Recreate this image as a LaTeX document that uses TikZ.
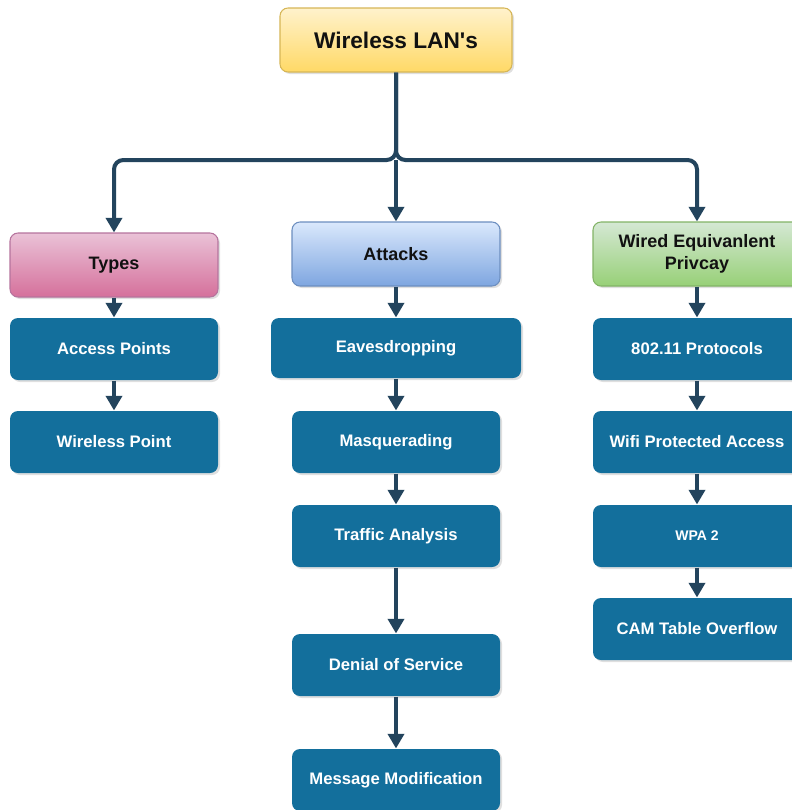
\documentclass[tikz,border=0pt]{standalone}
\usepackage{fontspec}
\setmainfont{Liberation Sans}
\setsansfont{Liberation Sans}
\usetikzlibrary{
  arrows.meta,
  shadows
}
\definecolor{wlanInk}{HTML}{111111}
\definecolor{wlanNavy}{HTML}{23445D}
\definecolor{wlanBlue}{HTML}{136F9C}
\definecolor{wlanGoldTop}{HTML}{FFF2CC}
\definecolor{wlanGoldBot}{HTML}{FFD966}
\definecolor{wlanGoldLine}{HTML}{D6B656}
\definecolor{wlanRoseTop}{HTML}{EAC2D7}
\definecolor{wlanRoseBot}{HTML}{D5709B}
\definecolor{wlanRoseLine}{HTML}{B5739D}
\definecolor{wlanSkyTop}{HTML}{DAE8FC}
\definecolor{wlanSkyBot}{HTML}{7EA6E0}
\definecolor{wlanSkyLine}{HTML}{6C8EBF}
\definecolor{wlanLeafTop}{HTML}{D5E8D4}
\definecolor{wlanLeafBot}{HTML}{97D077}
\definecolor{wlanLeafLine}{HTML}{82B366}
\tikzset{
  every node/.style={font=\sffamily\bfseries, text=wlanInk},
  panel/.style={
    rounded corners=6pt,
    line width=0.8pt,
    drop shadow={shadow xshift=1.5pt, shadow yshift=-1.5pt, opacity=0.25}
  },
  rootbox/.style={
    panel,
    draw=wlanGoldLine,
    top color=wlanGoldTop,
    bottom color=wlanGoldBot,
    minimum width=174pt,
    minimum height=48pt,
    font=\sffamily\bfseries\fontsize{17}{20}\selectfont
  },
  headbox/.style={
    panel,
    minimum width=156pt,
    minimum height=48pt,
    align=center,
    font=\sffamily\bfseries\fontsize{13.5}{17}\selectfont
  },
  itembox/.style={
    panel,
    fill=wlanBlue,
    text=white,
    minimum width=156pt,
    minimum height=46.5pt,
    font=\sffamily\bfseries\fontsize{12.5}{15}\selectfont
  },
  link/.style={
    -{Triangle[length=11pt,width=12pt]},
    line width=3pt,
    draw=wlanNavy
  }
}

\begin{document}
\begin{tikzpicture}[x=0.75pt,y=-0.75pt]
  \useasboundingbox (0,0) rectangle (792,810);
  \clip (0,0) rectangle (792,810);

  \node[rootbox] (wlan) at (396,40) {Wireless LAN\textquotesingle s};

  \node[headbox, draw=wlanRoseLine, top color=wlanRoseTop, bottom color=wlanRoseBot]
    (types) at (114,265) {Types};
  \node[headbox, draw=wlanSkyLine, top color=wlanSkyTop, bottom color=wlanSkyBot]
    (attacks) at (396,254) {Attacks};
  \node[headbox, draw=wlanLeafLine, top color=wlanLeafTop, bottom color=wlanLeafBot]
    (wep) at (697,254) {Wired Equivanlent\\Privcay};

  \node[itembox] (access) at (114,349) {Access Points};
  \node[itembox] (wpoint) at (114,442) {Wireless Point};

  \node[itembox, minimum width=187.5pt, minimum height=45pt] (eaves) at (396,348) {Eavesdropping};
  \node[itembox] (masq) at (396,442) {Masquerading};
  \node[itembox] (traffic) at (396,536) {Traffic Analysis};
  \node[itembox] (denial) at (396,665) {Denial of Service};
  \node[itembox] (modify) at (396,780) {Message Modification};

  \node[itembox] (proto) at (697,349) {802.11 Protocols};
  \node[itembox] (wpa) at (697,442) {Wifi Protected Access};
  \node[itembox, font=\sffamily\bfseries\fontsize{10.5}{13}\selectfont] (wpatwo) at (697,536) {WPA 2};
  \node[itembox] (cam) at (697,629) {CAM Table Overflow};

  \coordinate (hub) at (396,160);
  \draw[link, rounded corners=7pt] (wlan.south) -- (hub) -| (types.north);
  \draw[link, rounded corners=7pt] (wlan.south) -- (hub) -| (wep.north);
  \draw[link] (hub) -- (attacks.north);

  \foreach \a/\b in {types/access, access/wpoint,
                     attacks/eaves, eaves/masq, masq/traffic, traffic/denial, denial/modify,
                     wep/proto, proto/wpa, wpa/wpatwo, wpatwo/cam}
    \draw[link] (\a.south) -- (\b.north);
\end{tikzpicture}
\end{document}
